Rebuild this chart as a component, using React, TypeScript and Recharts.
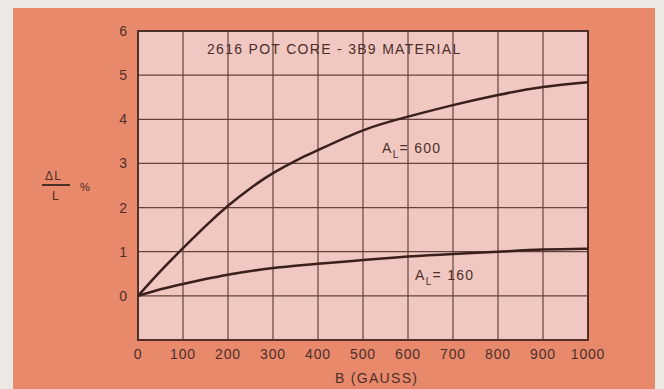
import React from 'react';
import { LineChart, Line, XAxis, YAxis, CartesianGrid, ReferenceArea } from 'recharts';

// B (gauss) sample points and ΔL/L (%)
const bGauss = [0, 50, 100, 150, 200, 250, 300, 350, 400, 500, 600, 700, 800, 900, 1000];
const al600 = [0, 0.56, 1.08, 1.58, 2.04, 2.44, 2.78, 3.06, 3.3, 3.75, 4.06, 4.32, 4.55, 4.73, 4.84];
const al160 = [0, 0.15, 0.27, 0.38, 0.48, 0.56, 0.63, 0.68, 0.73, 0.81, 0.89, 0.95, 1.0, 1.05, 1.07];

const xTicks = [0, 100, 200, 300, 400, 500, 600, 700, 800, 900, 1000];
const yTicks = [0, 1, 2, 3, 4, 5, 6];

const data = bGauss.map((b, i) => ({ b, al600: al600[i], al160: al160[i] }));

const ink = '#4d2f29';
const curve = '#3a201c';
const font = '"Liberation Sans", Arial, sans-serif';

const txt: React.CSSProperties = {
  position: 'absolute',
  fontFamily: font,
  color: ink,
  fontSize: 14,
  letterSpacing: 1.3,
  lineHeight: 1,
  whiteSpace: 'nowrap',
};

const App: React.FC = () => {
  return (
    <div style={{ position: 'absolute', left: 0, top: 0, width: 664, height: 389, background: '#ece8e4', overflow: 'hidden' }}>
      <div style={{ position: 'absolute', left: 13, top: 8, width: 642, height: 381, background: '#e8896c' }} />
      <div style={{ position: 'absolute', left: 0, top: 0 }}>
        <LineChart width={664} height={389} data={data} margin={{ top: 31, right: 76, left: 108, bottom: 19 }}>
          <CartesianGrid fill="#f0c7c1" stroke="#65433d" strokeWidth={1.2} />
          <XAxis
            dataKey="b"
            type="number"
            domain={[0, 1000]}
            ticks={xTicks}
            interval={0}
            height={30}
            axisLine={false}
            tickLine={false}
            tickMargin={3}
            tick={{ fill: ink, fontSize: 14, fontFamily: font, letterSpacing: 0.8 }}
          />
          <YAxis
            type="number"
            domain={[-1, 6]}
            ticks={yTicks}
            interval={0}
            width={30}
            axisLine={false}
            tickLine={false}
            tickMargin={5}
            tick={{ fill: ink, fontSize: 14, fontFamily: font }}
          />
          <ReferenceArea x1={0} x2={1000} y1={-1} y2={6} fill="none" stroke="#52302a" strokeWidth={2} ifOverflow="visible" />
          <Line type="natural" dataKey="al600" stroke={curve} strokeWidth={2.5} dot={false} isAnimationActive={false} />
          <Line type="natural" dataKey="al160" stroke={curve} strokeWidth={2.5} dot={false} isAnimationActive={false} />
        </LineChart>
      </div>

      <div style={{ ...txt, left: 207, top: 42 }}>2616 POT CORE - 3B9 MATERIAL</div>

      <div style={{ ...txt, left: 382, top: 141 }}>
        A<span style={{ fontSize: 10, position: 'relative', top: 5 }}>L</span>= 600
      </div>
      <div style={{ ...txt, left: 415, top: 268 }}>
        A<span style={{ fontSize: 10, position: 'relative', top: 5 }}>L</span>= 160
      </div>

      <div style={{ ...txt, left: 335, top: 371 }}>B (GAUSS)</div>

      <div style={{ ...txt, left: 45, top: 170, fontSize: 12 }}>ΔL</div>
      <div style={{ position: 'absolute', left: 42, top: 184, width: 28, height: 1.5, background: ink }} />
      <div style={{ ...txt, left: 52, top: 190, fontSize: 12 }}>L</div>
      <div style={{ ...txt, left: 80, top: 182, fontSize: 11, letterSpacing: 0 }}>%</div>
    </div>
  );
};

export default App;
